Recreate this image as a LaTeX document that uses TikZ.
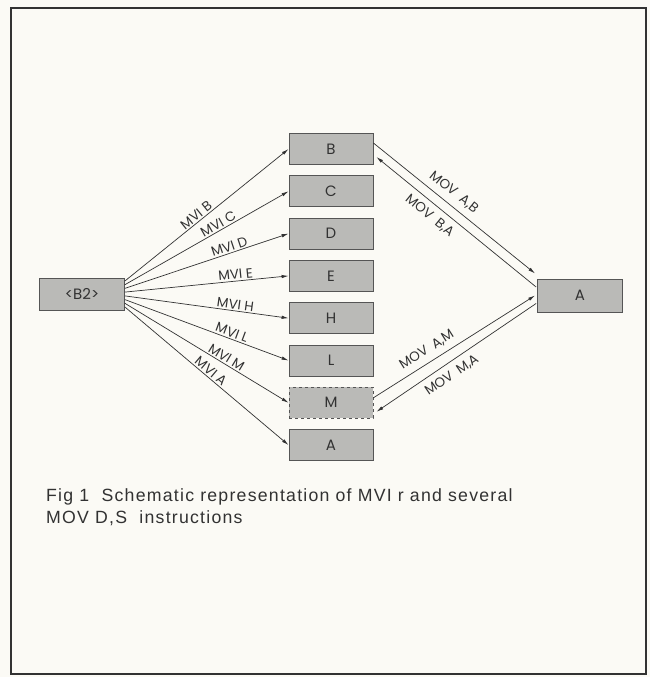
\documentclass[tikz,border=0pt]{standalone}
\usepackage{fontspec}
\newfontfamily\capfont[LetterSpace=7]{Liberation Sans}
\newfontfamily\regfont{Poppins}
\usetikzlibrary{arrows.meta, positioning}
\definecolor{paper}{RGB}{251,250,245}
\definecolor{regfill}{RGB}{186,186,183}
\definecolor{regline}{RGB}{85,85,85}
\definecolor{inkgray}{RGB}{50,50,50}
\tikzset{
  reg/.style={rectangle, draw=regline, fill=regfill,
    minimum width=84pt, minimum height=31pt, inner sep=0pt,
    font=\regfont\fontsize{15}{15}\selectfont, text=inkgray,
    line width=0.8pt},
  regM/.style={reg, dashed},
  regW/.style={reg, minimum width=85pt, minimum height=32pt},
  arr/.style={-{Latex[length=7pt,width=3.4pt]}, draw=inkgray, line width=0.7pt},
  lbl/.style={sloped, above, font=\regfont\fontsize{13.5}{13.5}\selectfont,
    text=inkgray, inner sep=1.5pt},
  lblM/.style={lbl, inner sep=6pt},
  lblB/.style={lblM, below},
}
\begin{document}
\begin{tikzpicture}[x=1pt, y=1pt, node distance=10.5pt]
  \useasboundingbox[fill=paper] (0,0) rectangle (650,677);
  \draw[line width=1.4pt, draw=inkgray] (11,3) rectangle (646,669);

  % ---- Source ----
  \node[regW] (b2) at (82,383) {<B2>};

  % ---- Register column ----
  \node[reg] (rb) at (331,528) {B};
  \node[reg, below=of rb] (rc) {C};
  \node[reg, below=of rc] (rd) {D};
  \node[reg, below=of rd] (re) {E};
  \node[reg, below=of re] (rh) {H};
  \node[reg, below=of rh] (rl) {L};
  \node[regM, below=of rl] (rm) {M};
  \node[reg, below=of rm] (ra) {A};

  % ---- Accumulator ----
  \node[regW, minimum height=33pt] (acc) at (580,381.5) {A};

  % ---- MVI arrows ----
  \draw[arr] ([yshift=13pt]b2.east)   -- node[lbl, pos=0.46]{MVI B} (rb.west);
  \draw[arr] ([yshift=9.3pt]b2.east)  -- node[lbl, pos=0.59]{MVI C} (rc.west);
  \draw[arr] ([yshift=5.6pt]b2.east)  -- node[lbl, pos=0.65]{MVI D} (rd.west);
  \draw[arr] ([yshift=1.9pt]b2.east)  -- node[lbl, pos=0.68]{MVI E} (re.west);
  \draw[arr] ([yshift=-1.9pt]b2.east) -- node[lbl, pos=0.67]{MVI H} (rh.west);
  \draw[arr] ([yshift=-5.6pt]b2.east) -- node[lbl, pos=0.64]{MVI L} (rl.west);
  \draw[arr] ([yshift=-9.3pt]b2.east) -- node[lbl, pos=0.60]{MVI M} (rm.west);
  \draw[arr] ([yshift=-13pt]b2.east)  -- node[lbl, pos=0.50]{MVI A} (ra.west);

  % ---- MOV arrows ----
  \draw[arr] ([yshift=6pt]rb.east) -- node[lblM, pos=0.45]{MOV\enspace A,B}
    ([xshift=-2pt,yshift=22pt]acc.west);
  \draw[arr] ([xshift=-1pt,yshift=8.5pt]acc.west) -- node[lblB, pos=0.62]{MOV\enspace B,A}
    ([xshift=3pt,yshift=-8pt]rb.east);
  \draw[arr] ([yshift=5pt]rm.east) -- node[lblM, pos=0.37]{MOV\enspace A,M}
    ([xshift=-2pt]acc.west);
  \draw[arr] ([xshift=-1pt,yshift=-8pt]acc.west) -- node[lblB, pos=0.57]{MOV\enspace M,A}
    ([xshift=3pt,yshift=-9pt]rm.east);

  % ---- Caption ----
  \node[anchor=base west, align=left, inner sep=0pt, text=inkgray,
    font=\capfont\fontsize{17.7}{22.7}\selectfont] (cap) at (46,153)
    {Fig 1\ \ Schematic representation of MVI r and several\\MOV D,S\ \ instructions};
\end{tikzpicture}
\end{document}
